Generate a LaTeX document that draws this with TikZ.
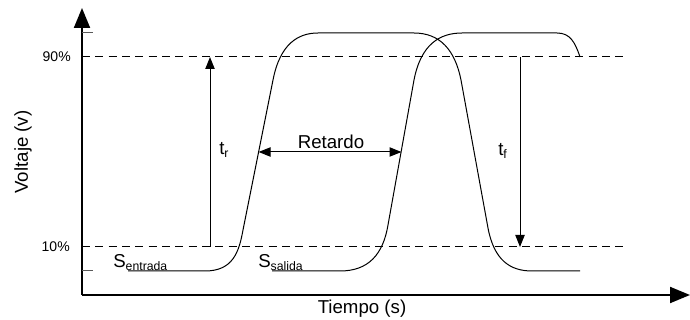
\documentclass[tikz,border=0pt]{standalone}
\usepackage{fontspec}
\setmainfont{Liberation Sans}
\usetikzlibrary{arrows.meta}
\newcommand{\subtxt}[1]{\raisebox{-2pt}{\fontsize{9.2}{10}\selectfont #1}}

\begin{document}
\begin{tikzpicture}[x=0.75pt,y=-0.75pt,
      axis/.style={line width=1.5pt,-{Triangle[length=15pt,width=12pt]}},
      lvl/.style={line width=0.75pt,dash pattern=on 6pt off 4pt},
      sig/.style={line width=0.75pt},
      tic/.style={line width=0.75pt,black!65},
      meas/.style={line width=0.75pt,-{Triangle[length=9pt,width=7pt]}},
      lbl/.style={font=\fontsize{14}{16}\selectfont,inner sep=0pt},
      pct/.style={font=\fontsize{10.5}{12}\selectfont,inner sep=0pt,anchor=east}
   ]
   \useasboundingbox (0,0) rectangle (690,320);
   % ejes
   \coordinate (o) at (82,295);
   \coordinate (ytop) at (82,8);
   \coordinate (xend) at (690,295);
   \draw[axis] (o) -- (ytop);
   \draw[axis] (o) -- (xend);
   \node[lbl,rotate=90] (volt) at (23,152) {Voltaje (v)};
   \node[lbl] (tiempo) at (362,309) {Tiempo (s)};
   % niveles 90% y 10%
   \coordinate (hi) at (82,33);   \coordinate (hie) at (93,33);
   \coordinate (lo) at (82,271);  \coordinate (loe) at (93,271);
   \draw[tic] (hi) -- (hie);
   \draw[tic] (lo) -- (loe);
   \coordinate (p90) at (82,57);  \coordinate (p90e) at (627,57);
   \coordinate (p10) at (82,247); \coordinate (p10e) at (627,247);
   \draw[lvl] (p90) -- (p90e);
   \draw[lvl] (p10) -- (p10e);
   \node[pct] (l90) at (71,57) {90\%};
   \node[pct] (l10) at (70,247) {10\%};
   % senal de entrada
   \draw[sig] (128,271) -- (205,271) .. controls (233,271) and (239,252) .. (243,230)
      -- (273,80) .. controls (280,44) and (298,33) .. (318,33) -- (414,33)
      .. controls (440,33) and (455,50) .. (461,80) -- (488,228)
      .. controls (494,260) and (510,271) .. (532,271) -- (580,271);
   % senal de salida
   \draw[sig] (272,271) -- (340,271) .. controls (368,271) and (383,255) .. (388,225)
      -- (414,80) .. controls (421,44) and (440,33) .. (462,33) -- (557,33)
      .. controls (570,33) and (575,42) .. (580,57);
   \node[lbl,anchor=base west] (sin) at (113,268) {S\subtxt{entrada}};
   \node[lbl,anchor=base west] (sout) at (258,268) {S\subtxt{salida}};
   % tiempos de subida y bajada
   \coordinate (tr0) at (210,247); \coordinate (tr1) at (210,57);
   \coordinate (tf0) at (520,57);  \coordinate (tf1) at (520,247);
   \draw[meas] (tr0) -- (tr1);
   \draw[meas] (tf0) -- (tf1);
   \node[lbl,anchor=base west] (tr) at (219,155) {t\subtxt{r}};
   \node[lbl,anchor=base west] (tf) at (498,156) {t\subtxt{f}};
   % retardo
   \coordinate (r0) at (258.6,152); \coordinate (r1) at (401.5,152);
   \draw[meas,{Triangle[length=9pt,width=7pt]}-{Triangle[length=9pt,width=7pt]}] (r0) -- (r1);
   \node[lbl,anchor=base] (ret) at (331,149) {Retardo};
\end{tikzpicture}
\end{document}
